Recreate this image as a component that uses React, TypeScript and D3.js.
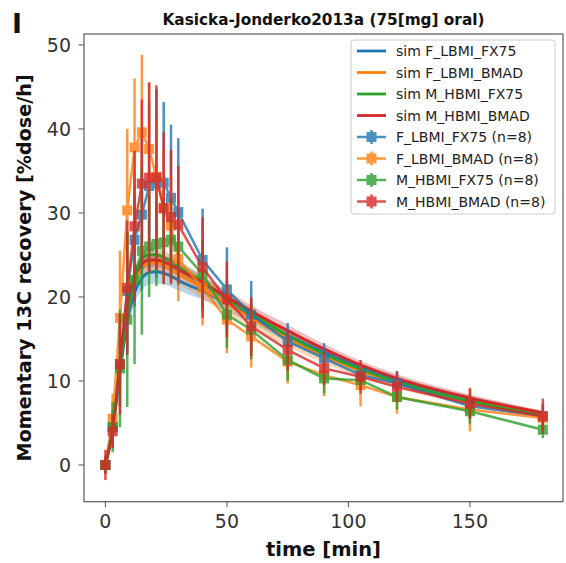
import React from "react";
import * as d3 from "d3";

const W = 566;
const H = 563;

const times = [0, 3, 6, 9, 12, 15, 18, 21, 24, 27, 30, 40, 50, 60, 75, 90, 105, 120, 150, 180];

const dataF_FX = [0, 4.5, 12, 20.7, 26.8, 29.8, 33.2, 33.5, 33.6, 31.8, 30.1, 24.4, 20.9, 17.9, 14.7, 12.7, 10.7, 9.7, 7.0, 5.8];
const sdF_FX = [1, 2, 5, 7, 8, 9, 10, 11.2, 9.6, 8.7, 8.8, 6.1, 5, 4, 2.2, 1.8, 1.5, 1.5, 1.5, 1.5];
const dataF_BM = [0, 5.5, 17.5, 30.3, 37.8, 39.6, 37.6, 34.3, 30.5, 28.5, 24.5, 21.1, 17.3, 15.3, 12.3, 10.7, 9.5, 8.1, 6.6, 5.6];
const sdF_BM = [1, 3, 8, 9.7, 8.2, 9.2, 8, 7, 7, 6, 5, 4.5, 4, 3.7, 2.6, 2.5, 2.5, 2, 2.6, 1.5];
const dataM_FX = [0, 4.5, 11.5, 17.3, 22, 25.5, 26, 26.3, 26.5, 26.8, 26, 22.7, 17.9, 16.1, 12.5, 10.3, 10.1, 8.1, 6.4, 4.2];
const sdM_FX = [1, 3, 7, 10.4, 10, 10, 6, 5, 5, 5, 4.5, 4, 4, 3.5, 2.5, 1.8, 1.1, 1.5, 1.5, 1.0];
const dataM_BM = [0, 4, 12, 21.1, 28.4, 33.5, 34.2, 34.2, 30.6, 29.5, 28.6, 23.5, 19.7, 16.5, 13.7, 11.5, 10.5, 9.3, 7.3, 5.8];
const sdM_BM = [1.8, 2, 6, 8, 9, 10, 11.3, 11, 9, 8, 7, 6, 4.5, 3.5, 2.5, 2, 2, 1.8, 1.8, 2.1];

const simTimes = [0, 3, 6, 9, 12, 15, 18, 21, 24, 27, 30, 35, 40, 50, 60, 75, 90, 105, 120, 150, 180];
const simF_FX = [0, 4, 11, 17, 20.5, 22.2, 22.9, 23.0, 22.8, 22.5, 22.0, 21.3, 20.7, 19.2, 17.7, 15.4, 13.4, 11.6, 10.1, 7.8, 6.1];
const simF_BM = [0, 4.5, 12, 18, 21.8, 23.4, 24.1, 24.1, 23.8, 23.3, 22.8, 21.9, 21.0, 19.2, 17.5, 15.1, 13.0, 11.2, 9.8, 7.6, 6.0];
const simM_FX = [0, 4.5, 12.5, 19, 22.8, 24.5, 25.0, 25.0, 24.7, 24.2, 23.6, 22.7, 21.8, 19.8, 18.0, 15.4, 13.2, 11.4, 9.9, 7.6, 5.9];
const simM_BM = [0, 4.3, 12, 18.5, 22.3, 23.9, 24.4, 24.4, 24.2, 23.8, 23.3, 22.5, 21.7, 20.0, 18.3, 16.0, 13.8, 11.9, 10.3, 8.0, 6.2];
const bandF_FX = [0, 0.4, 0.8, 1.1, 1.3, 1.4, 1.4, 1.4, 1.3, 1.3, 1.2, 1.1, 1.0, 0.9, 0.8, 0.7, 0.6, 0.5, 0.5, 0.4, 0.3];
const bandF_BM = [0, 0.4, 0.8, 1.0, 1.1, 1.2, 1.2, 1.2, 1.2, 1.2, 1.2, 1.2, 1.2, 1.2, 1.1, 1.0, 0.9, 0.8, 0.7, 0.5, 0.4];
const bandM_FX = [0, 0.3, 0.6, 0.8, 0.9, 0.9, 0.9, 0.9, 0.9, 0.8, 0.8, 0.8, 0.7, 0.7, 0.6, 0.6, 0.5, 0.5, 0.4, 0.4, 0.3];
const bandM_BM = [0, 0.3, 0.6, 0.7, 0.8, 0.8, 0.8, 0.8, 0.8, 0.8, 0.8, 0.8, 0.8, 0.8, 0.7, 0.7, 0.6, 0.5, 0.5, 0.4, 0.3];

const simLabels = ["sim F_LBMI_FX75", "sim F_LBMI_BMAD", "sim M_HBMI_FX75", "sim M_HBMI_BMAD"];
const dataLabels = ["F_LBMI_FX75 (n=8)", "F_LBMI_BMAD (n=8)", "M_HBMI_FX75 (n=8)", "M_HBMI_BMAD (n=8)"];
const colors = ["#1f77b4", "#ff7f0e", "#2ca02c", "#d62728"];
const xTicks = [0, 50, 100, 150];
const yTicks = [0, 10, 20, 30, 40, 50];

const title = "Kasicka-Jonderko2013a (75[mg] oral)";
const xLabel = "time [min]";
const yLabel = "Momentary 13C recovery [%dose/h]";

const sims = [
  { v: simF_FX, b: bandF_FX },
  { v: simF_BM, b: bandF_BM },
  { v: simM_FX, b: bandM_FX },
  { v: simM_BM, b: bandM_BM },
];
const datas = [
  { v: dataF_FX, sd: sdF_FX },
  { v: dataF_BM, sd: sdF_BM },
  { v: dataM_FX, sd: sdM_FX },
  { v: dataM_BM, sd: sdM_BM },
];

const L = 84, R = 563, T = 34, B = 501.7;
const FONT = "DejaVu Sans, sans-serif";

export default function App() {
  const x = d3.scaleLinear().domain([-8.8, 188.3]).range([L, R]);
  const y = d3.scaleLinear().domain([-4.37, 51.3]).range([B, T]);
  const line = d3
    .line<number>()
    .x((_, i) => x(simTimes[i]))
    .y((d) => y(d))
    .curve(d3.curveMonotoneX);
  const dline = d3
    .line<number>()
    .x((_, i) => x(times[i]))
    .y((d) => y(d));
  const ms = 10;

  return (
    <svg width={W} height={H} style={{ position: "absolute", left: 0, top: 0 }} fontFamily={FONT}>
      <rect width={W} height={H} fill="white" />
      <defs>
        <clipPath id="clip">
          <rect x={L} y={T} width={R - L} height={B - T} />
        </clipPath>
      </defs>
      <text x={12} y={33} fontSize={27} fontWeight="bold" fill="#111">I</text>
      <text x={(L + R) / 2} y={25} fontSize={15.3} fontWeight="bold" textAnchor="middle" fill="#111">
        {title}
      </text>
      <g clipPath="url(#clip)">
        {sims.map((s, k) => {
          const area = d3
            .area<number>()
            .x((_, i) => x(simTimes[i]))
            .y0((d, i) => y(d - s.b[i]))
            .y1((d, i) => y(d + s.b[i]))
            .curve(d3.curveMonotoneX);
          return <path key={"b" + k} d={area(s.v) || ""} fill={colors[k]} opacity={0.3} />;
        })}
        {sims.map((s, k) => (
          <path key={"s" + k} d={line(s.v) || ""} fill="none" stroke={colors[k]} strokeWidth={2.8} />
        ))}
        {datas.map((dd, k) => (
          <g key={"d" + k} opacity={0.8}>
            <path d={dline(dd.v) || ""} fill="none" stroke={colors[k]} strokeWidth={2.5} />
            {dd.v.map((v, i) => (
              <line
                key={"e" + i}
                x1={x(times[i])}
                x2={x(times[i])}
                y1={y(v - dd.sd[i])}
                y2={y(v + dd.sd[i])}
                stroke={colors[k]}
                strokeWidth={2.5}
              />
            ))}
            {dd.v.map((v, i) => (
              <rect
                key={"m" + i}
                x={x(times[i]) - ms / 2}
                y={y(v) - ms / 2}
                width={ms}
                height={ms}
                fill={colors[k]}
              />
            ))}
          </g>
        ))}
      </g>
      <rect x={L} y={T} width={R - L} height={B - T} fill="none" stroke="#666" strokeWidth={1.3} />
      {xTicks.map((t) => (
        <g key={"xt" + t}>
          <line x1={x(t)} x2={x(t)} y1={B} y2={B + 5.5} stroke="#555" strokeWidth={1} />
          <text x={x(t)} y={528} fontSize={19} textAnchor="middle" fill="#333">{t}</text>
        </g>
      ))}
      {yTicks.map((t) => (
        <g key={"yt" + t}>
          <line x1={L - 5.5} x2={L} y1={y(t)} y2={y(t)} stroke="#555" strokeWidth={1} />
          <text x={71} y={y(t) + 7} fontSize={19} textAnchor="end" fill="#333">{t}</text>
        </g>
      ))}
      <text x={(L + R) / 2} y={556} fontSize={19.5} fontWeight="bold" textAnchor="middle" fill="#111">
        {xLabel}
      </text>
      <text
        transform={`translate(31,${(T + B) / 2}) rotate(-90)`}
        fontSize={19.2}
        fontWeight="bold"
        textAnchor="middle"
        fill="#111"
      >
        {yLabel}
      </text>
      <g>
        <rect x={351} y={40} width={204} height={174} rx={3} fill="white" fillOpacity={0.8} stroke="#ccc" strokeWidth={1} />
        {simLabels.map((lab, i) => {
          const yy = 51 + i * 21.5;
          return (
            <g key={"ls" + i}>
              <line x1={357} x2={386} y1={yy} y2={yy} stroke={colors[i]} strokeWidth={2.8} />
              <text x={396} y={yy + 5} fontSize={14} fill="#222">{lab}</text>
            </g>
          );
        })}
        {dataLabels.map((lab, i) => {
          const yy = 51 + (i + 4) * 21.5;
          return (
            <g key={"ld" + i}>
              <g opacity={0.8}>
                <line x1={357} x2={386} y1={yy} y2={yy} stroke={colors[i]} strokeWidth={2.5} />
                <line x1={371.5} x2={371.5} y1={yy - 7} y2={yy + 7} stroke={colors[i]} strokeWidth={2.5} />
                <rect x={371.5 - 5} y={yy - 5} width={10} height={10} fill={colors[i]} />
              </g>
              <text x={396} y={yy + 5} fontSize={14} fill="#222">{lab}</text>
            </g>
          );
        })}
      </g>
    </svg>
  );
}
